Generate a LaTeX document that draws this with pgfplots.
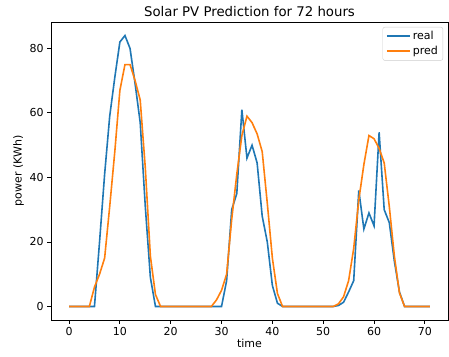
\documentclass[border=0pt]{standalone}
\usepackage{fontspec}
\setmainfont{DejaVu Sans}
\usepackage{pgfplots}
\pgfplotsset{compat=1.18}
\definecolor{mplblue}{HTML}{1F77B4}
\definecolor{mplorange}{HTML}{FF7F0E}
\begin{document}
\begin{tikzpicture}
\begin{axis}[
  scale only axis,
  width=397pt, height=298pt,
  xmin=-3.55, xmax=74.55,
  ymin=-4.2, ymax=88.2,
  xtick={0,10,...,70},
  ytick={0,20,40,60,80},
  tick align=outside,
  major tick length=3.8pt,
  tick pos=left,
  axis line style={line width=0.9pt},
  every tick/.style={black, line width=0.9pt},
  /pgf/number format/assume math mode=true,
  ticklabel style={font=\fontsize{11}{13}\selectfont},
  title={Solar PV Prediction for 72 hours},
  title style={font=\fontsize{13.3}{15}\selectfont, yshift=-4pt},
  xlabel={time},
  ylabel={power (KWh)},
  label style={font=\fontsize{11}{13}\selectfont},
  xlabel style={yshift=3pt},
  ylabel style={yshift=-1pt},
  every axis plot/.append style={line width=1.6pt},
  legend style={at={(1,1)}, anchor=north east, xshift=-5pt, yshift=-5pt,
    draw=black!20, rounded corners=2pt, font=\fontsize{11}{13}\selectfont,
    inner xsep=3pt, inner ysep=2pt, row sep=1.5pt},
  legend cell align=left,
  legend image code/.code={\draw[#1, line width=2pt] (0pt,0pt) -- (23pt,0pt);},
]
\addplot[mplblue] coordinates {
(0,0)(1,0)(2,0)(3,0)(4,0)(5,0)(6,20)(7,41)(8,59)(9,71)(10,82)(11,84)(12,80)(13,69)(14,57)(15,31)(16,9)
(17,0)(18,0)(19,0)(20,0)(21,0)(22,0)(23,0)(24,0)(25,0)(26,0)(27,0)(28,0)(29,0)(30,0)
(31,8)(32,30)(33,35)(34,61)(35,46)(36,50)(37,44.5)(38,28)(39,20)(40,6.5)(41,1)
(42,0)(43,0)(44,0)(45,0)(46,0)(47,0)(48,0)(49,0)(50,0)(51,0)(52,0)
(53,0.3)(54,1.3)(55,4.5)(56,8)(57,36)(58,24)(59,29)(60,25)(61,54)(62,30)(63,26)(64,14)(65,4.5)
(66,0)(67,0)(68,0)(69,0)(70,0)(71,0)
};
\addlegendentry{real}
\addplot[mplorange] coordinates {
(0,0)(1,0)(2,0)(3,0)(4,0)(5,6)(6,10)(7,15)(8,31)(9,48)(10,67)(11,75)(12,75)(13,70)(14,64)(15,43)(16,15.6)(17,3.7)
(18,0)(19,0)(20,0)(21,0)(22,0)(23,0)(24,0)(25,0)(26,0)(27,0)(28,0)
(29,2)(30,5)(31,10)(32,27)(33,41)(34,53)(35,59)(36,57)(37,53.5)(38,48)(39,32)(40,15)(41,4)
(42,0)(43,0)(44,0)(45,0)(46,0)(47,0)(48,0)(49,0)(50,0)(51,0)(52,0)
(53,0.8)(54,3)(55,8)(56,18)(57,33)(58,44)(59,53)(60,52)(61,49)(62,44.5)(63,31)(64,15.6)(65,4.2)
(66,0)(67,0)(68,0)(69,0)(70,0)(71,0)
};
\addlegendentry{pred}
\end{axis}
\pgfresetboundingbox
\useasboundingbox ([xshift=-51pt,yshift=-36pt]current axis.south west) rectangle ([xshift=1pt,yshift=22pt]current axis.north east);
\end{tikzpicture}
\end{document}
